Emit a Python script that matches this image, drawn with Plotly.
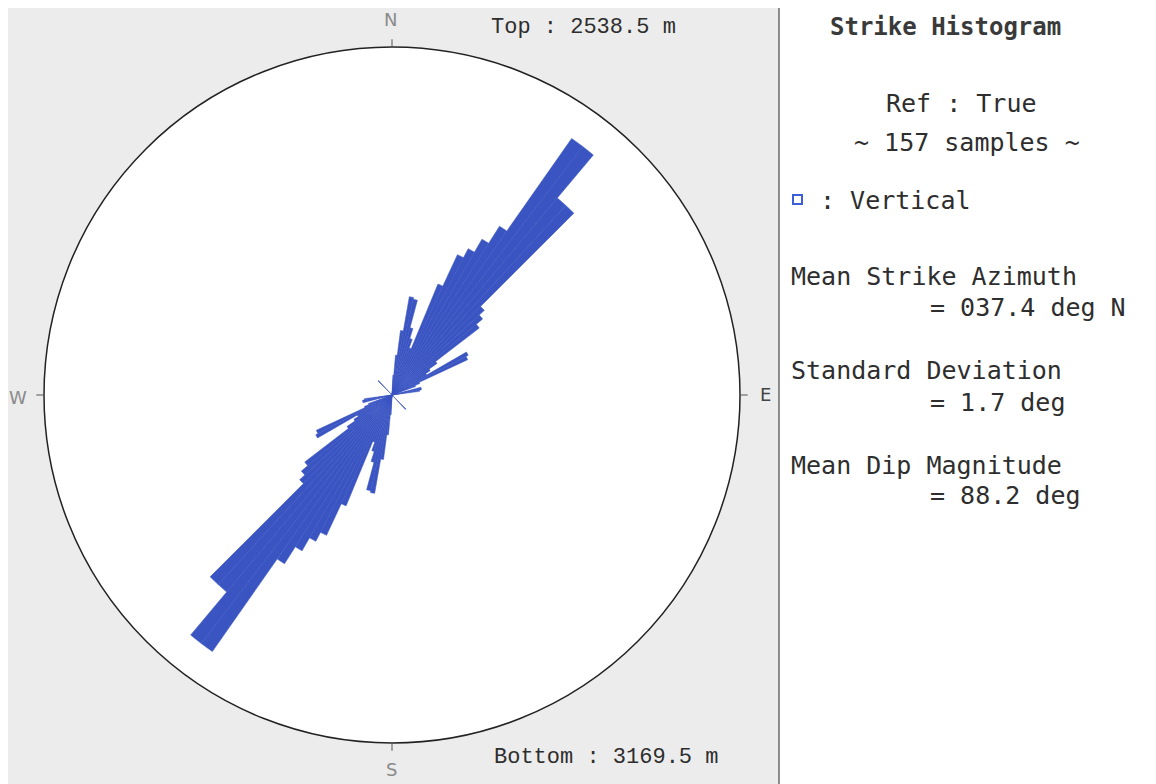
import plotly.graph_objects as go

# ---- data (strike histogram, bidirectional; circle = 100) ----
bin_width = 2.5
strike_bins = [3.75, 6.25, 8.75, 11.25, 13.75, 16.25, 18.75, 21.25, 23.75, 26.25,
               28.75, 31.25, 33.75, 36.25, 38.75, 41.25, 43.75, 46.25, 48.75, 51.25,
               53.75, 56.25, 58.75, 61.25, 63.75, 66.25, 68.75, 76.25, 78.75, 81.25,
               136.25]
frequency = [5.7, 11.5, 18.7, 28.7, 28.2, 20.0, 17.0, 14.4, 34.5, 44.5,
             47.4, 51.7, 57.5, 90.0, 90.0, 73.9, 73.9, 36.0, 34.0, 31.6,
             15.8, 13.0, 11.5, 24.7, 24.0, 8.6, 7.2, 8.6, 8.6, 8.0,
             5.7]

compass_labels = ["N", "E", "S", "W"]
compass_angles = [0, 90, 180, 270]

top_text = "Top : 2538.5 m"
bottom_text = "Bottom : 3169.5 m"
panel_title = "Strike Histogram"
ref_text = "Ref : True"
samples_text = "~ 157 samples ~"
legend_text = ": Vertical"
stats = [("Mean Strike Azimuth", "= 037.4 deg N"),
         ("Standard Deviation", "= 1.7 deg"),
         ("Mean Dip Magnitude", "= 88.2 deg")]

# mirror to opposite direction (strike is bidirectional)
theta_all = strike_bins + [b + 180 for b in strike_bins]
r_all = frequency + frequency

OFF = 8  # default page body margin
W, H = 1156 - OFF, 784 - OFF
BAR = "#3a55c2"
TXT = "#2e2e2e"
MONO = "DejaVu Sans Mono"

def px(x):
    return (x - OFF) / W

def py(y):
    return 1 - (y - OFF) / H

cx, cy, R = 392, 395, 348

fig = go.Figure()
fig.add_trace(go.Barpolar(
    r=r_all, theta=theta_all, width=[bin_width] * len(theta_all),
    marker=dict(color=BAR, line=dict(color=BAR, width=0.5)),
    showlegend=False, hoverinfo="r+theta"))

fig.update_layout(
    width=W, height=H, autosize=False,
    margin=dict(l=0, r=0, t=0, b=0),
    paper_bgcolor="white", plot_bgcolor="white",
    polar=dict(
        domain=dict(x=[px(cx - R), px(cx + R)], y=[py(cy + R), py(cy - R)]),
        bgcolor="white",
        radialaxis=dict(visible=False, range=[0, 100]),
        angularaxis=dict(direction="clockwise", rotation=90, showgrid=False,
                         showline=True, linecolor="#222", linewidth=1.5,
                         tickvals=compass_angles, ticks="outside", ticklen=7,
                         tickcolor="#555", showticklabels=False),
        bargap=0,
    ),
)

shapes = [
    dict(type="rect", xref="paper", yref="paper", x0=px(7), x1=px(779), y0=py(800), y1=py(5),
         fillcolor="#ececec", line=dict(width=0), layer="below"),
    dict(type="rect", xref="paper", yref="paper", x0=px(7), x1=px(1170), y0=py(800), y1=py(5),
         fillcolor="rgba(0,0,0,0)", line=dict(color="#8a8a8a", width=1.5)),
    dict(type="line", xref="paper", yref="paper", x0=px(779), x1=px(779), y0=py(800), y1=py(5),
         line=dict(color="#6a6a6a", width=1.5)),
    dict(type="rect", xref="paper", yref="paper", x0=px(793), x1=px(802), y0=py(204), y1=py(195),
         fillcolor="white", line=dict(color="#3a5fd8", width=2)),
]
fig.update_layout(shapes=shapes)

ann = []
compass_pos = {"N": (390, 20), "E": (765, 394), "S": (391, 769), "W": (18, 397)}
for lab in compass_labels:
    x, y = compass_pos[lab]
    ann.append(dict(x=px(x), y=py(y), xref="paper", yref="paper", text=lab, showarrow=False,
                    font=dict(family="DejaVu Sans", size=18,
                              color="#444" if lab == "E" else "#8a8a8a"),
                    xanchor="center", yanchor="middle"))

ann.append(dict(x=px(489), y=py(27), xref="paper", yref="paper", text=top_text, showarrow=False,
                font=dict(family="Liberation Mono", size=22, color=TXT),
                xanchor="left", yanchor="middle"))
ann.append(dict(x=px(492), y=py(757), xref="paper", yref="paper", text=bottom_text, showarrow=False,
                font=dict(family="Liberation Mono", size=22, color=TXT),
                xanchor="left", yanchor="middle"))

ann.append(dict(x=px(945), y=py(27), xref="paper", yref="paper", text="<b>" + panel_title + "</b>",
                showarrow=False, font=dict(family=MONO, size=24, color="#3a3a3a"),
                xanchor="center", yanchor="middle"))
ann.append(dict(x=px(961), y=py(103), xref="paper", yref="paper", text=ref_text, showarrow=False,
                font=dict(family=MONO, size=25, color=TXT), xanchor="center", yanchor="middle"))
ann.append(dict(x=px(967), y=py(142), xref="paper", yref="paper", text=samples_text, showarrow=False,
                font=dict(family=MONO, size=25, color=TXT), xanchor="center", yanchor="middle"))
ann.append(dict(x=px(818), y=py(200), xref="paper", yref="paper", text=legend_text, showarrow=False,
                font=dict(family=MONO, size=25, color=TXT), xanchor="left", yanchor="middle"))

ys = [(276, 307), (370, 402), (465, 495)]
for (name, val), (y1, y2) in zip(stats, ys):
    ann.append(dict(x=px(789), y=py(y1), xref="paper", yref="paper", text=name, showarrow=False,
                    font=dict(family=MONO, size=25, color=TXT), xanchor="left", yanchor="middle"))
    ann.append(dict(x=px(928), y=py(y2), xref="paper", yref="paper", text=val, showarrow=False,
                    font=dict(family=MONO, size=25, color=TXT), xanchor="left", yanchor="middle"))

fig.update_layout(annotations=ann)
fig.write_html("out.html")
